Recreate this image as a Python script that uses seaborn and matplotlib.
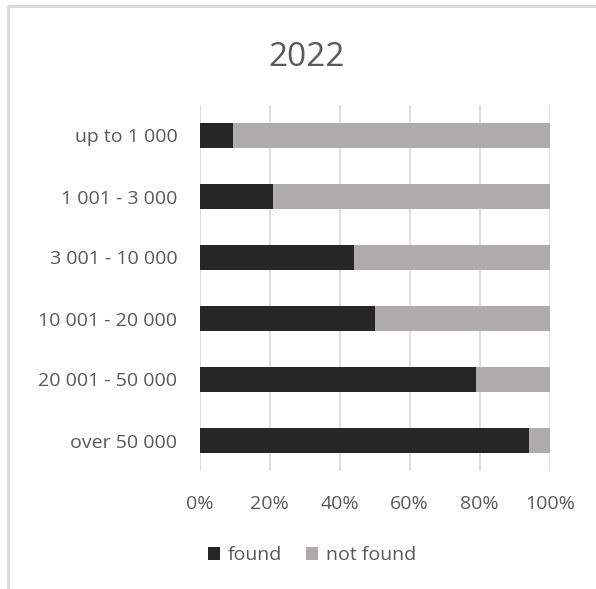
import matplotlib
matplotlib.use("Agg")
import matplotlib.pyplot as plt
import seaborn as sns
import pandas as pd
from matplotlib.patches import Patch
from matplotlib.lines import Line2D
from matplotlib.ticker import PercentFormatter

categories = ["up to 1 000", "1 001 - 3 000", "3 001 - 10 000",
              "10 001 - 20 000", "20 001 - 50 000", "over 50 000"]
found = [9.5, 21, 44, 50, 79, 94]
not_found = [90.5, 79, 56, 50, 21, 6]
series_names = ["found", "not found"]
title = "2022"

sns.set_theme(style="white")
plt.rcParams['font.family'] = ['Open Sans', 'DejaVu Sans']

df = pd.DataFrame({"cat": categories, "found": found, "not_found": not_found})
df["total"] = df["found"] + df["not_found"]

c_found = "#262626"
c_not = "#AEABAB"
txt = "#595959"

fig = plt.figure(figsize=(5.96, 5.89), dpi=100)
ax = fig.add_axes([199.5 / 596, 1 - 471 / 589, 350.2 / 596, 366 / 589])

sns.barplot(data=df, y="cat", x="total", color=c_not, width=0.4, ax=ax,
            orient="h", saturation=1, edgecolor="none", zorder=2)
sns.barplot(data=df, y="cat", x="found", color=c_found, width=0.4, ax=ax,
            orient="h", saturation=1, edgecolor="none", zorder=3)

ax.set_xlim(0, 100)
ax.set_ylim(5.5, -0.5)
ax.set_xticks([0, 20, 40, 60, 80, 100])
ax.xaxis.set_major_formatter(PercentFormatter(decimals=0))
ax.set_xlabel("")
ax.set_ylabel("")
for s in ax.spines.values():
    s.set_visible(False)
ax.grid(axis="x", color="#D9D9D9", linewidth=1.2, zorder=0)
ax.set_axisbelow(True)
ax.tick_params(axis="both", length=0, labelsize=14, labelcolor=txt)
ax.tick_params(axis="y", pad=16)
ax.tick_params(axis="x", pad=17)

fig.text(307 / 596, 1 - 58 / 589, title, ha="center", va="center",
         fontsize=24, color=txt)

handles = [Patch(facecolor=c_found, edgecolor="none"),
           Patch(facecolor=c_not, edgecolor="none")]
fig.legend(handles, series_names, loc="center", bbox_to_anchor=(312 / 596, 1 - 555 / 589),
           ncol=2, frameon=False, fontsize=14, labelcolor=txt,
           handlelength=0.65, handleheight=0.65, handletextpad=0.4, columnspacing=1.2)

# chart border (top and left visible)
fig.add_artist(Line2D([8 / 596, 8 / 596], [0, 1 - 6 / 589], transform=fig.transFigure,
                      color="#D9D9D9", linewidth=2))
fig.add_artist(Line2D([8 / 596, 1], [1 - 6 / 589, 1 - 6 / 589], transform=fig.transFigure,
                      color="#D9D9D9", linewidth=2))

fig.savefig("out.png", dpi=100, facecolor="white")
